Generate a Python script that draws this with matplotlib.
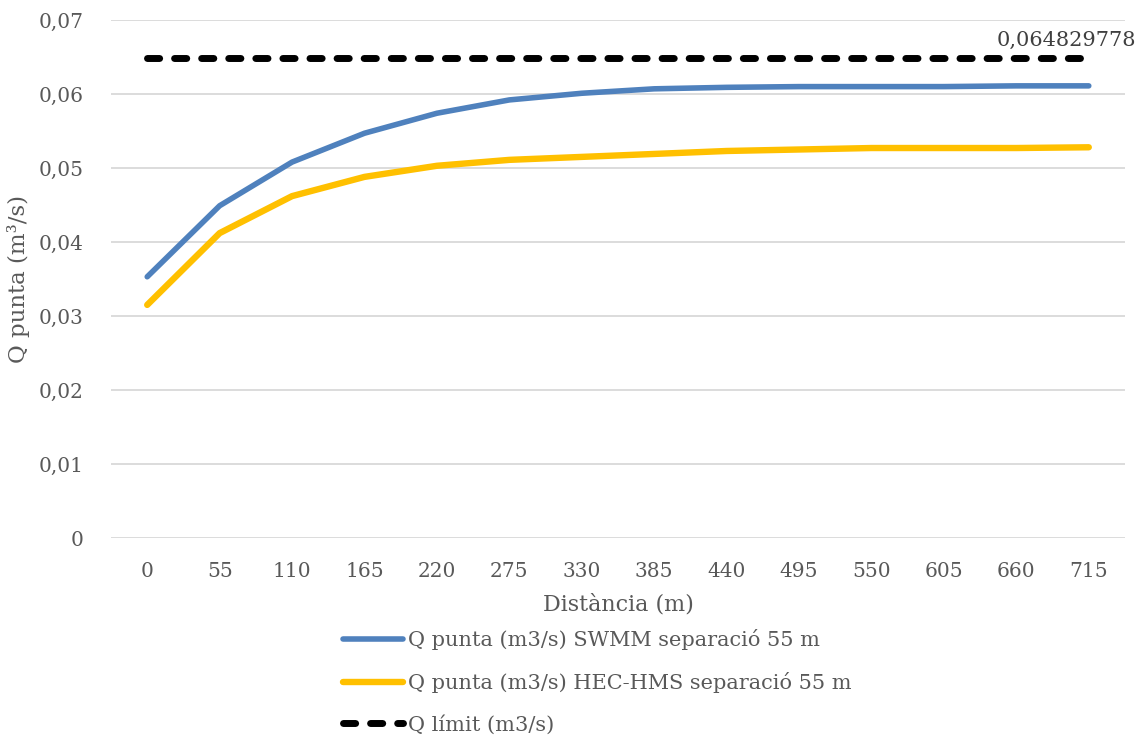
import matplotlib
matplotlib.use("Agg")
import matplotlib.pyplot as plt
from matplotlib.ticker import MultipleLocator, FuncFormatter

# distancies (m)
distancia = [0, 55, 110, 165, 220, 275, 330, 385, 440, 495, 550, 605, 660, 715]

# Q punta SWMM i HEC-HMS (m3/s), llegits del grafic
q_swmm = [0.0353, 0.0449, 0.0508, 0.0547, 0.0574, 0.0592, 0.0601, 0.0607,
          0.0609, 0.0610, 0.0610, 0.0610, 0.0611, 0.0611]
q_hms = [0.0315, 0.0412, 0.0462, 0.0488, 0.0503, 0.0511, 0.0515, 0.0519,
         0.0523, 0.0525, 0.0527, 0.0527, 0.0527, 0.0528]
q_limit = 0.064829778

gris = "#595959"
plt.rcParams['font.family'] = ['DejaVu Serif']

fig = plt.figure(figsize=(11.45, 7.4), dpi=100)
ax = fig.add_axes([111/1145, 1 - 538/740, (1125 - 111)/1145, (538 - 20)/740])

x = list(range(len(distancia)))
ax.plot(x, q_swmm, color="#4f81bd", lw=4.0, solid_capstyle='round',
        label="Q punta (m3/s) SWMM separació 55 m")
ax.plot(x, q_hms, color="#ffc000", lw=4.6, solid_capstyle='round',
        label="Q punta (m3/s) HEC-HMS separació 55 m")
ax.plot(x, [q_limit] * len(x), color="black", lw=5, dash_capstyle='round',
        linestyle=(0, (1.75, 2.15)), label="Q límit (m3/s)")

ax.annotate("0,064829778", (x[-1], q_limit), xytext=(-66, 6), textcoords='offset points',
            fontsize=15, color="#404040", ha='left', va='bottom')

ax.set_xlim(-0.5, len(x) - 0.5)
ax.set_ylim(0, 0.07)
ax.yaxis.set_major_locator(MultipleLocator(0.01))
ax.yaxis.set_major_formatter(FuncFormatter(lambda v, p: "0" if abs(v) < 1e-9 else ("%.2f" % v).replace(".", ",")))
ax.set_xticks(x)
ax.set_xticklabels([str(d) for d in distancia])
ax.tick_params(axis='both', length=0, labelsize=14.5, colors=gris)
ax.tick_params(axis='x', pad=17)
ax.tick_params(axis='y', pad=20)
ax.grid(axis='y', color="#d9d9d9", lw=1.3)
ax.set_axisbelow(True)
for s in ax.spines.values():
    s.set_visible(False)

ax.set_xlabel("Distància (m)", fontsize=16, color=gris, labelpad=9)
ax.set_ylabel("Q punta (m³/s)", fontsize=16.5, color=gris, labelpad=6)

fig.legend(loc='upper left', bbox_to_anchor=(343/1145, 1 - 629/740), frameon=False,
           fontsize=15, handlelength=2.9, handletextpad=0.2, labelspacing=1.05,
           borderpad=0, borderaxespad=0, labelcolor=gris)

fig.savefig("out.png", dpi=100)
